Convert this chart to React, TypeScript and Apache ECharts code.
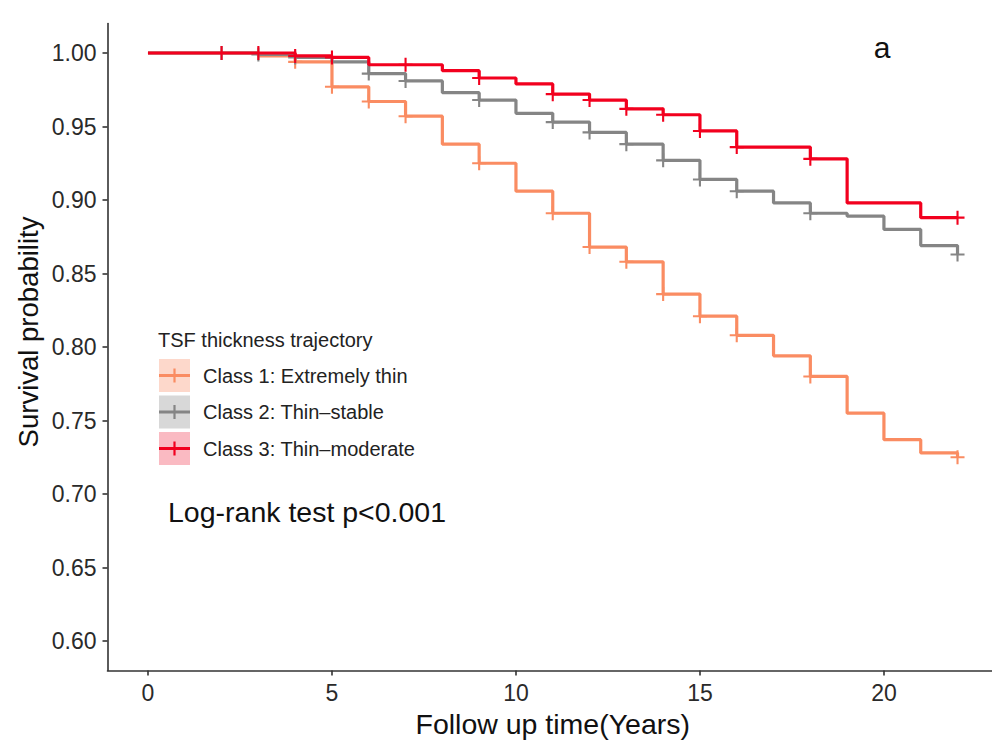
import React, { useEffect, useRef } from "react";
import * as echarts from "echarts";

// ---- Data ----
const classNames = [
  "Class 1: Extremely thin",
  "Class 2: Thin\u2013stable",
  "Class 3: Thin\u2013moderate",
];

const class1Times = [0, 3, 4, 5, 6, 7, 8, 9, 10, 11, 12, 13, 14, 15, 16, 17, 18, 19, 20, 21, 22];
const class1Surv = [1.0, 0.998, 0.994, 0.977, 0.967, 0.957, 0.938, 0.925, 0.906, 0.891, 0.868, 0.858, 0.836, 0.821, 0.808, 0.794, 0.78, 0.755, 0.737, 0.728, 0.725];
const class1Censor = [4, 5, 6, 7, 9, 11, 12, 13, 14, 15, 16, 18, 22];

const class2Times = [0, 3, 4, 5, 6, 7, 8, 9, 10, 11, 12, 13, 14, 15, 16, 17, 18, 19, 20, 21, 22];
const class2Surv = [1.0, 0.999, 0.997, 0.994, 0.986, 0.981, 0.973, 0.968, 0.959, 0.953, 0.946, 0.938, 0.927, 0.914, 0.906, 0.898, 0.891, 0.889, 0.88, 0.869, 0.863];
const class2Censor = [2, 3, 4, 6, 7, 9, 11, 12, 13, 14, 15, 16, 18, 22];

const class3Times = [0, 4, 5, 6, 8, 9, 10, 11, 12, 13, 14, 15, 16, 18, 19, 21, 22];
const class3Surv = [1.0, 0.998, 0.997, 0.992, 0.988, 0.983, 0.979, 0.972, 0.968, 0.962, 0.958, 0.947, 0.936, 0.928, 0.898, 0.888, 0.888];
const class3Censor = [2, 3, 4, 5, 7, 9, 11, 12, 13, 14, 15, 16, 18, 22];

const xTicks = [0, 5, 10, 15, 20];
const yTicks = [0.6, 0.65, 0.7, 0.75, 0.8, 0.85, 0.9, 0.95, 1.0];

const legendTitle = "TSF thickness trajectory";
const testLabel = "Log-rank test p<0.001";
const panelLabel = "a";
const xTitle = "Follow up time(Years)";
const yTitle = "Survival probability";

// ---- Styles ----
const lineColors = ["#FA8C62", "#858585", "#F2001E"];
const keyFills = ["#FDD8CB", "#D8D8D8", "#FABAC2"];
const FONT = "Liberation Sans, Arial, Helvetica, sans-serif";
const CROSS =
  "path://M-1,-0.15 L1,-0.15 L1,0.15 L-1,0.15 Z M-0.15,-1 L0.15,-1 L0.15,1 L-0.15,1 Z";

function survAt(times: number[], surv: number[], t: number): number {
  let v = surv[0];
  for (let i = 0; i < times.length; i++) {
    if (times[i] <= t) v = surv[i];
  }
  return v;
}

const groups = [
  { times: class1Times, surv: class1Surv, censor: class1Censor },
  { times: class2Times, surv: class2Surv, censor: class2Censor },
  { times: class3Times, surv: class3Surv, censor: class3Censor },
];

export default function App() {
  const ref = useRef<HTMLDivElement>(null);

  useEffect(() => {
    if (!ref.current) return;
    const chart = echarts.init(ref.current, null, { renderer: "svg" });

    const series: any[] = [];
    groups.forEach((g, i) => {
      series.push({
        type: "line",
        name: classNames[i],
        step: "end",
        data: g.times.map((t, k) => [t, g.surv[k]]),
        showSymbol: false,
        symbol: "none",
        lineStyle: { color: lineColors[i], width: 3.2 },
        z: 2 + i * 2,
        silent: true,
      });
      series.push({
        type: "scatter",
        name: classNames[i] + " censor",
        data: g.censor.map((t) => [t, survAt(g.times, g.surv, t)]),
        symbol: CROSS,
        symbolSize: 14,
        itemStyle: { color: lineColors[i], opacity: 1 },
        z: 3 + i * 2,
        silent: true,
      });
    });

    const graphics: any[] = [];
    // y-axis title
    graphics.push({
      type: "text",
      x: 28,
      y: 332,
      rotation: Math.PI / 2,
      style: {
        text: yTitle,
        font: `27.5px ${FONT}`,
        fill: "#111",
        align: "center",
        verticalAlign: "middle",
      },
    });
    // panel label
    graphics.push({
      type: "text",
      x: 882,
      y: 47,
      style: {
        text: panelLabel,
        font: `30px ${FONT}`,
        fill: "#111",
        align: "center",
        verticalAlign: "middle",
      },
    });
    // legend title
    graphics.push({
      type: "text",
      x: 158,
      y: 340,
      style: {
        text: legendTitle,
        font: `20px ${FONT}`,
        fill: "#222",
        align: "left",
        verticalAlign: "middle",
      },
    });
    const keyTops = [359, 395.5, 432];
    classNames.forEach((name, i) => {
      const top = keyTops[i];
      const cy = top + 16.5;
      graphics.push({
        type: "rect",
        shape: { x: 159, y: top, width: 31, height: 33 },
        style: { fill: keyFills[i] },
      });
      graphics.push({
        type: "line",
        shape: { x1: 159, y1: cy, x2: 190, y2: cy },
        style: { stroke: lineColors[i], lineWidth: 3 },
      });
      graphics.push({
        type: "line",
        shape: { x1: 174.5, y1: cy - 7, x2: 174.5, y2: cy + 7 },
        style: { stroke: lineColors[i], lineWidth: 2.2 },
      });
      graphics.push({
        type: "text",
        x: 203,
        y: cy,
        style: {
          text: name,
          font: `20px ${FONT}`,
          fill: "#222",
          align: "left",
          verticalAlign: "middle",
        },
      });
    });
    // log-rank text
    graphics.push({
      type: "text",
      x: 168,
      y: 512,
      style: {
        text: testLabel,
        font: `28.5px ${FONT}`,
        fill: "#111",
        align: "left",
        verticalAlign: "middle",
      },
    });

    const axisLineStyle = { color: "#333", width: 1.6 };

    chart.setOption({
      animation: false,
      backgroundColor: "#ffffff",
      textStyle: { fontFamily: FONT },
      grid: {
        left: 107.5,
        right: -6,
        top: 23.6,
        bottom: 71.5,
        containLabel: false,
        outerBoundsMode: "none",
      },
      xAxis: {
        type: "value",
        min: -1.1,
        max: 23.1,
        axisLine: { show: true, onZero: false, lineStyle: axisLineStyle },
        axisTick: { show: true, customValues: xTicks, length: 5, lineStyle: axisLineStyle },
        axisLabel: {
          customValues: xTicks,
          fontSize: 23,
          color: "#2a2a2a",
          margin: 11,
          fontFamily: FONT,
        },
        splitLine: { show: false },
        name: xTitle,
        nameLocation: "middle",
        nameGap: 37,
        nameTextStyle: { fontSize: 28.5, color: "#111", fontFamily: FONT },
      },
      yAxis: {
        type: "value",
        min: 0.58,
        max: 1.02,
        axisLine: { show: true, onZero: false, lineStyle: axisLineStyle },
        axisTick: { show: true, customValues: yTicks, length: 5, lineStyle: axisLineStyle },
        axisLabel: {
          customValues: yTicks,
          fontSize: 23,
          color: "#2a2a2a",
          margin: 11,
          fontFamily: FONT,
          formatter: (v: number) => v.toFixed(2),
        },
        splitLine: { show: false },
      },
      series,
      graphic: graphics,
    });

    return () => {
      chart.dispose();
    };
  }, []);

  return (
    <div
      ref={ref}
      style={{
        position: "fixed",
        left: 0,
        top: 0,
        width: 992,
        height: 742,
        background: "#fff",
      }}
    />
  );
}
